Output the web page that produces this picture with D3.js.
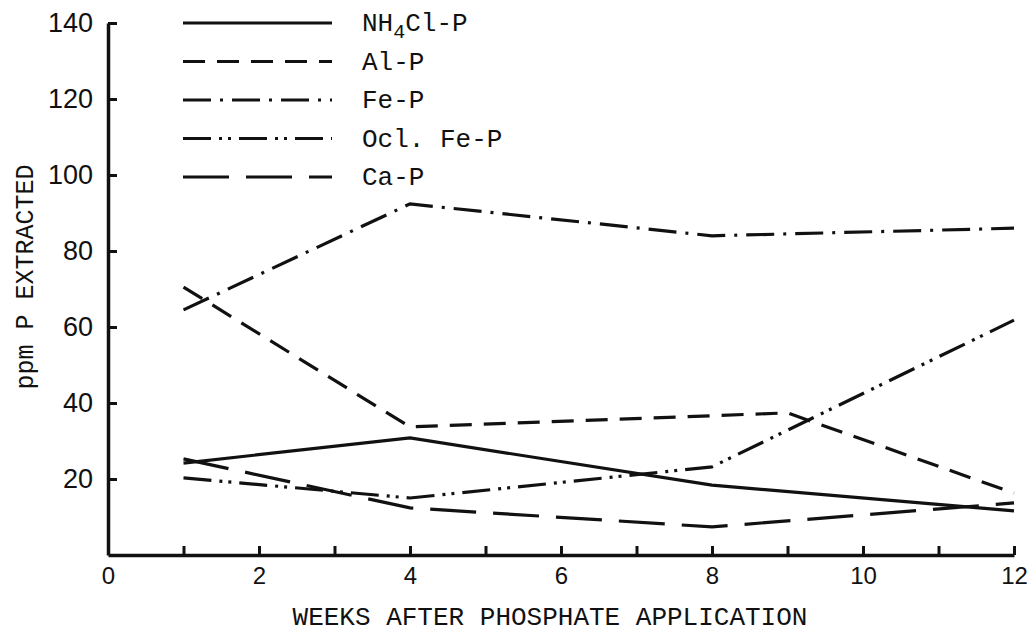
<!DOCTYPE html>
<html lang="en">
<head>
  <meta charset="UTF-8">
  <title>ppm P extracted</title>
  <script src="https://d3js.org/d3.v7.min.js"></script>
  <style>
    body { margin: 0; background: #fff; }
    svg { display: block; }
    .mono { font-family: "Liberation Mono", monospace; fill: #111; }
    .tick text { font-family: "Liberation Sans", sans-serif; fill: #111; }
  </style>
</head>
<body>
  <div id="chart"></div>

  <script>
    // values: [week, ppm P]
    const nh4clP = [[1, 24.2], [4, 30.8], [8, 18.4], [12, 11.6]];
    const alP = [[1, 70.5], [4, 33.7], [9, 37.4], [12, 16.3]];
    const feP = [[1, 64.5], [4, 92.4], [8, 84], [12, 86]];
    const oclFeP = [[1, 20.3], [4, 15], [8, 23.2], [12, 61.8]];
    const caP = [[1, 25.3], [4, 12.4], [8, 7.4], [12, 13.7]];

    const seriesNames = ['NH4Cl-P', 'Al-P', 'Fe-P', 'Ocl. Fe-P', 'Ca-P'];
    const xTicks = [0, 1, 2, 3, 4, 5, 6, 7, 8, 9, 10, 11, 12];
    const yTicks = [20, 40, 60, 80, 100, 120, 140];

    const width = 1032, height = 635;

    const x = d3.scaleLinear().domain([0, 12]).range([108, 1014]);
    const y = d3.scaleLinear().domain([0, 140]).range([555, 23]);

    const svg = d3.select('#chart')
      .append('svg')
      .attr('width', width)
      .attr('height', height);

    // dash styles, one per series
    const dashes = {
      'NH4Cl-P': null,
      'Al-P': '22,12',
      'Fe-P': '28,9,3,9',
      'Ocl. Fe-P': '28,8,3,6,3,8',
      'Ca-P': '46,17'
    };

    const series = [
      { name: 'NH4Cl-P', values: nh4clP },
      { name: 'Al-P', values: alP },
      { name: 'Fe-P', values: feP },
      { name: 'Ocl. Fe-P', values: oclFeP },
      { name: 'Ca-P', values: caP }
    ];

    // axes
    const xAxis = d3.axisBottom(x)
      .tickValues(xTicks)
      .tickSizeInner(-9)
      .tickSizeOuter(0)
      .tickPadding(12)
      .tickFormat(d => d % 2 === 0 ? d : '');

    const yAxis = d3.axisLeft(y)
      .tickValues(yTicks)
      .tickSizeInner(-9)
      .tickSizeOuter(0)
      .tickPadding(15);

    const gx = svg.append('g')
      .attr('transform', `translate(0,${y(0)})`)
      .call(xAxis);
    gx.selectAll('.tick text').attr('font-size', 24);

    const gy = svg.append('g')
      .attr('transform', `translate(${x(0)},0)`)
      .call(yAxis);
    gy.selectAll('.tick text').attr('font-size', 27);

    svg.selectAll('.domain')
      .attr('stroke', '#111')
      .attr('stroke-width', 3.5);
    svg.selectAll('.tick line')
      .attr('stroke', '#111')
      .attr('stroke-width', 3);

    // data lines
    const line = d3.line()
      .x(d => x(d[0]))
      .y(d => y(d[1]));

    svg.selectAll('path.series')
      .data(series)
      .enter()
      .append('path')
      .attr('class', 'series')
      .attr('d', d => line(d.values))
      .attr('fill', 'none')
      .attr('stroke', '#111')
      .attr('stroke-width', 3.2)
      .attr('stroke-dasharray', d => dashes[d.name]);

    // legend, top left inside the plot
    const legendY = d3.scaleLinear().domain([0, 4]).range([23, 177]);

    const legend = svg.selectAll('g.legend')
      .data(seriesNames)
      .enter()
      .append('g')
      .attr('class', 'legend')
      .attr('transform', (d, i) => `translate(0,${legendY(i)})`);

    legend.append('line')
      .attr('x1', 183)
      .attr('x2', 332)
      .attr('stroke', '#111')
      .attr('stroke-width', 3.2)
      .attr('stroke-dasharray', d => dashes[d]);

    legend.append('text')
      .attr('class', 'mono')
      .attr('x', 362)
      .attr('y', 8)
      .attr('font-size', 26)
      .each(function(d) {
        const t = d3.select(this);
        if (d === 'NH4Cl-P') {
          t.append('tspan').text('NH');
          t.append('tspan').attr('dy', 7).attr('font-size', 20).text('4');
          t.append('tspan').attr('dy', -7).text('Cl-P');
        } else {
          t.text(d);
        }
      });

    // axis titles
    svg.append('text')
      .attr('class', 'mono')
      .attr('x', 550)
      .attr('y', 625)
      .attr('text-anchor', 'middle')
      .attr('font-size', 26)
      .text('WEEKS AFTER PHOSPHATE APPLICATION');

    svg.append('text')
      .attr('class', 'mono')
      .attr('transform', 'translate(33,277) rotate(-90)')
      .attr('text-anchor', 'middle')
      .attr('font-size', 25)
      .text('ppm P EXTRACTED');
  </script>
</body>
</html>
